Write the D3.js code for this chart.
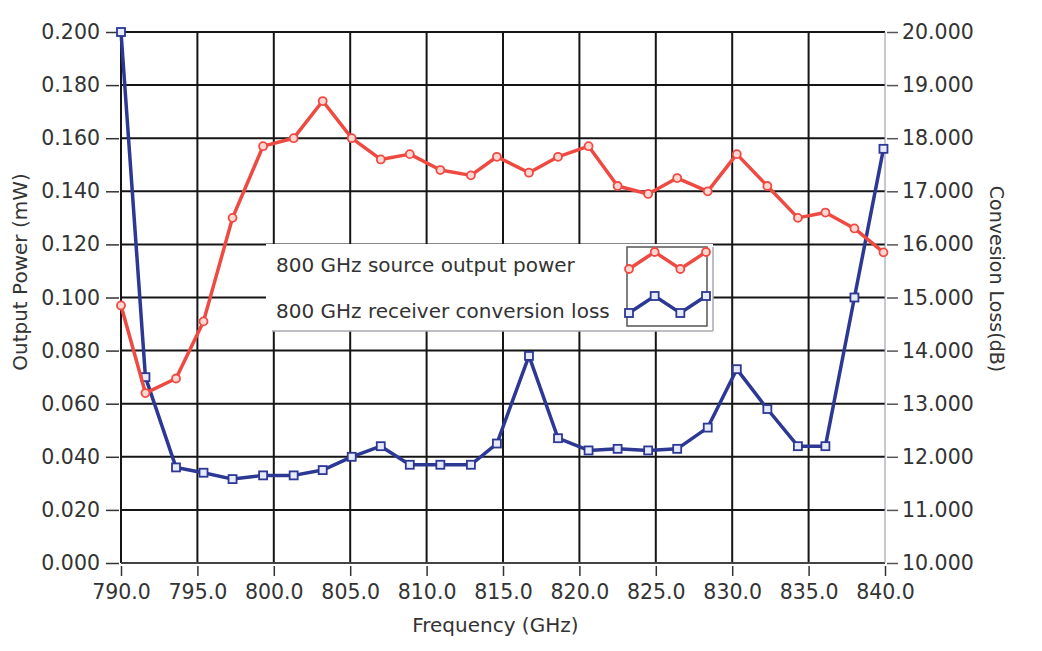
<!DOCTYPE html>
<html>
<head>
<meta charset="utf-8">
<script src="https://cdn.jsdelivr.net/npm/d3@7"></script>
<style>
  body { margin: 0; background: #fff; }
  svg text { font-family: "DejaVu Sans", Verdana, sans-serif; fill: #333; }
</style>
</head>
<body>
<svg id="chart"></svg>
<script>
// Frequency points (GHz)
const frequency = [790.0, 791.6, 793.6, 795.4, 797.3, 799.3, 801.3, 803.2, 805.1, 807.0,
                   808.9, 810.9, 812.9, 814.6, 816.7, 818.6, 820.6, 822.5, 824.5, 826.4,
                   828.4, 830.3, 832.3, 834.3, 836.1, 838.0, 839.9];

// 800 GHz source output power (mW), left axis
const outputPower = [0.097, 0.064, 0.0695, 0.091, 0.130, 0.157, 0.160, 0.174, 0.160, 0.152,
                     0.154, 0.148, 0.146, 0.153, 0.147, 0.153, 0.157, 0.142, 0.139, 0.145,
                     0.140, 0.154, 0.142, 0.130, 0.132, 0.126, 0.117];

// 800 GHz receiver conversion loss (dB), right axis
const conversionLoss = [20.0, 13.5, 11.8, 11.7, 11.58, 11.65, 11.65, 11.75, 12.0, 12.2,
                        11.85, 11.85, 11.85, 12.25, 13.9, 12.35, 12.12, 12.15, 12.12, 12.15,
                        12.55, 13.65, 12.9, 12.2, 12.2, 15.0, 17.8];

const xTicks = [790, 795, 800, 805, 810, 815, 820, 825, 830, 835, 840];
const leftTicks = [0, 0.02, 0.04, 0.06, 0.08, 0.1, 0.12, 0.14, 0.16, 0.18, 0.2];
const rightTicks = [10, 11, 12, 13, 14, 15, 16, 17, 18, 19, 20];

const seriesNames = ['800 GHz source output power', '800 GHz receiver conversion loss'];
// zig-zag shape of the legend glyph
const legendGlyph = [0, 1, 0, 1];

const RED = '#ee4a42';
const BLUE = '#2c3894';

const width = 1042, height = 651;
const margin = {top: 32, right: 157, bottom: 88, left: 121};
const innerW = width - margin.left - margin.right;
const innerH = height - margin.top - margin.bottom;

const svg = d3.select('#chart')
    .attr('width', width)
    .attr('height', height);

const chart = svg.append('g')
    .attr('transform', `translate(${margin.left},${margin.top})`);

// Scales
const xScale = d3.scaleLinear().domain([790, 840]).range([0, innerW]);
const yLeft = d3.scaleLinear().domain([0, 0.2]).range([innerH, 0]);
const yRight = d3.scaleLinear().domain([10, 20]).range([innerH, 0]);

// Grid
chart.append('g')
    .selectAll('line')
    .data(leftTicks.filter(d => d > 0))
    .join('line')
    .attr('x1', 0).attr('x2', innerW)
    .attr('y1', d => yLeft(d)).attr('y2', d => yLeft(d))
    .attr('stroke', '#151515').attr('stroke-width', 2);

chart.append('g')
    .selectAll('line')
    .data(xTicks.filter(d => d > 790 && d < 840))
    .join('line')
    .attr('x1', d => xScale(d)).attr('x2', d => xScale(d))
    .attr('y1', 0).attr('y2', innerH)
    .attr('stroke', '#151515').attr('stroke-width', 2);

// Frame
chart.append('line').attr('x1', 0).attr('x2', 0).attr('y1', 0).attr('y2', innerH)
    .attr('stroke', '#151515').attr('stroke-width', 2);
chart.append('line').attr('x1', 0).attr('x2', innerW).attr('y1', innerH).attr('y2', innerH)
    .attr('stroke', '#444').attr('stroke-width', 2);
chart.append('line').attr('x1', innerW).attr('x2', innerW).attr('y1', 0).attr('y2', innerH)
    .attr('stroke', '#8c90a8').attr('stroke-width', 1);

// Axes
const xAxis = d3.axisBottom(xScale)
    .tickValues(xTicks)
    .tickFormat(d3.format('.1f'))
    .tickSize(10)
    .tickPadding(8);

const leftAxis = d3.axisLeft(yLeft)
    .tickValues(leftTicks)
    .tickFormat(d3.format('.3f'))
    .tickSize(13)
    .tickPadding(6);

const rightAxis = d3.axisRight(yRight)
    .tickValues(rightTicks)
    .tickFormat(d3.format('.3f'))
    .tickSize(11)
    .tickPadding(4);

const xAxisG = chart.append('g')
    .attr('transform', `translate(0,${innerH + 3})`)
    .call(xAxis);
const leftAxisG = chart.append('g')
    .attr('transform', 'translate(-2,0)')
    .call(leftAxis);
const rightAxisG = chart.append('g')
    .attr('transform', `translate(${innerW + 2},0)`)
    .call(rightAxis);

[xAxisG, leftAxisG, rightAxisG].forEach(g => {
    g.select('.domain').remove();
    g.selectAll('.tick line').attr('stroke', '#333').attr('stroke-width', 1.5);
    g.selectAll('.tick text').attr('font-size', 20.5).attr('fill', '#333');
});
rightAxisG.selectAll('.tick line').attr('stroke', '#555');

// Axis titles
svg.append('text')
    .attr('transform', 'translate(27,272) rotate(-90)')
    .attr('text-anchor', 'middle')
    .attr('font-size', 20)
    .text('Output Power (mW)');

svg.append('text')
    .attr('transform', 'translate(990,279) rotate(90)')
    .attr('text-anchor', 'middle')
    .attr('font-size', 19)
    .text('Convesion Loss(dB)');

svg.append('text')
    .attr('x', margin.left + xScale(814.5))
    .attr('y', 632)
    .attr('text-anchor', 'middle')
    .attr('font-size', 20)
    .text('Frequency (GHz)');

// Series
const powerData = frequency.map((f, i) => ({x: f, y: outputPower[i]}));
const lossData = frequency.map((f, i) => ({x: f, y: conversionLoss[i]}));

const powerLine = d3.line().x(d => xScale(d.x)).y(d => yLeft(d.y));
const lossLine = d3.line().x(d => xScale(d.x)).y(d => yRight(d.y));

chart.append('path')
    .datum(lossData)
    .attr('d', lossLine)
    .attr('fill', 'none')
    .attr('stroke', BLUE)
    .attr('stroke-width', 3.5)
    .attr('stroke-linejoin', 'round');

chart.selectAll('.loss-point')
    .data(lossData)
    .join('rect')
    .attr('class', 'loss-point')
    .attr('x', d => xScale(d.x) - 4)
    .attr('y', d => yRight(d.y) - 4)
    .attr('width', 8).attr('height', 8)
    .attr('fill', '#e8ebff')
    .attr('stroke', BLUE)
    .attr('stroke-width', 1.8);

chart.append('path')
    .datum(powerData)
    .attr('d', powerLine)
    .attr('fill', 'none')
    .attr('stroke', RED)
    .attr('stroke-width', 3.5)
    .attr('stroke-linejoin', 'round');

chart.selectAll('.power-point')
    .data(powerData)
    .join('circle')
    .attr('class', 'power-point')
    .attr('cx', d => xScale(d.x))
    .attr('cy', d => yLeft(d.y))
    .attr('r', 4)
    .attr('fill', '#ffd8d4')
    .attr('stroke', RED)
    .attr('stroke-width', 1.8);

// Legend
const legend = svg.append('g').attr('transform', 'translate(266,244)');

legend.append('rect')
    .attr('x', 0).attr('y', 0)
    .attr('width', 447).attr('height', 87)
    .attr('fill', '#fff');
legend.append('line')
    .attr('x1', 6).attr('x2', 447).attr('y1', 87).attr('y2', 87)
    .attr('stroke', '#a8a8b4').attr('stroke-width', 1.5);
legend.append('line')
    .attr('x1', 447).attr('x2', 447).attr('y1', 3).attr('y2', 87)
    .attr('stroke', '#a8a8b4').attr('stroke-width', 1.5);

legend.selectAll('.legend-label')
    .data(seriesNames)
    .join('text')
    .attr('class', 'legend-label')
    .attr('x', 10)
    .attr('y', (d, i) => 28 + i * 46)
    .attr('font-size', 20)
    .text(d => d);

const glyph = legend.append('g').attr('transform', 'translate(361,3)');
glyph.append('rect')
    .attr('x', 0).attr('y', 0)
    .attr('width', 80).attr('height', 79)
    .attr('fill', '#fff')
    .attr('stroke', '#555').attr('stroke-width', 1.5);

const gx = d3.scaleLinear().domain([0, legendGlyph.length - 1]).range([2, 79]);
const gyRows = [{color: RED, base: 22, shape: 'circle'}, {color: BLUE, base: 66, shape: 'rect'}];

gyRows.forEach(row => {
    const gy = d3.scaleLinear().domain([0, 1]).range([row.base, row.base - 17]);
    glyph.append('path')
        .datum(legendGlyph)
        .attr('d', d3.line().x((d, i) => gx(i)).y(d => gy(d)))
        .attr('fill', 'none')
        .attr('stroke', row.color)
        .attr('stroke-width', 3.5);
    if (row.shape === 'circle') {
        glyph.selectAll(null)
            .data(legendGlyph)
            .join('circle')
            .attr('cx', (d, i) => gx(i))
            .attr('cy', d => gy(d))
            .attr('r', 4)
            .attr('fill', '#ffd8d4')
            .attr('stroke', row.color).attr('stroke-width', 1.8);
    } else {
        glyph.selectAll(null)
            .data(legendGlyph)
            .join('rect')
            .attr('x', (d, i) => gx(i) - 4)
            .attr('y', d => gy(d) - 4)
            .attr('width', 8).attr('height', 8)
            .attr('fill', '#e8ebff')
            .attr('stroke', row.color).attr('stroke-width', 1.8);
    }
});
</script>
</body>
</html>
